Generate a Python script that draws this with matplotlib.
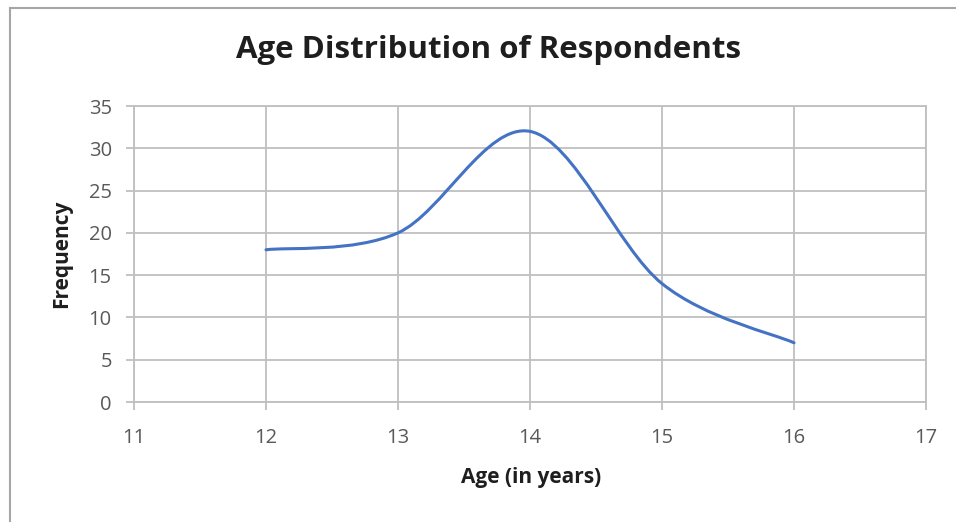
import numpy as np
import matplotlib.pyplot as plt
from matplotlib.path import Path
from matplotlib.patches import PathPatch

# data
ages = [12, 13, 14, 15, 16]
freq = [18, 20, 32, 14, 7]
xticks = [11, 12, 13, 14, 15, 16, 17]
yticks = [0, 5, 10, 15, 20, 25, 30, 35]

plt.rcParams['font.family'] = ['Open Sans', 'DejaVu Sans']

fig = plt.figure(figsize=(9.56, 5.22), dpi=100)
ax = fig.add_axes([134/956, 1-402/522, (926-134)/956, (402-106)/522])

#smoothed line like excel: cubic bezier through the points
p = np.column_stack([ages, freq]).astype(float)
n = len(p)
verts = [p[0]]
codes = [Path.MOVETO]
for i in range(n-1):
  prev = p[i-1] if i > 0 else p[i]
  nxt = p[i+2] if i+2 < n else p[i+1]
  c1 = p[i] + (p[i+1]-prev)/6
  c2 = p[i+1] - (nxt-p[i])/6
  verts += [c1, c2, p[i+1]]
  codes += [Path.CURVE4]*3
ax.add_patch(PathPatch(Path(verts, codes), facecolor='none', edgecolor='#4472c4', lw=2.2, capstyle='round', zorder=3))

ax.set_xlim(11, 17)
ax.set_ylim(0, 35)
ax.set_xticks(xticks)
ax.set_yticks(yticks)
ax.grid(True, color='#bfbfbf', lw=1.3)
ax.set_axisbelow(True)
for s in ax.spines.values():
  s.set_color('#bfbfbf')
  s.set_linewidth(1.3)
ax.tick_params(colors='#bfbfbf', width=1.3, length=6, labelcolor='#595959', labelsize=14.5)
ax.tick_params(axis='x', pad=13)
ax.tick_params(axis='y', pad=10)

fig.text(489/956, 1-50/522, 'Age Distribution of Respondents', ha='center', va='center', fontsize=22.5, fontweight='bold', color='#1e1e1e')
fig.text(531/956, 1-478/522, 'Age (in years)', ha='center', va='center', fontsize=15, fontweight='bold', color='#1e1e1e')
fig.text(62/956, 1-254/522, 'Frequency', ha='center', va='center', rotation=90, fontsize=15, fontweight='bold', color='#1e1e1e')

#outer chart border (left and top visible)
fig.add_artist(plt.Line2D([10/956, 10/956], [0, 1-8/522], color='#a6a6a6', lw=1.5))
fig.add_artist(plt.Line2D([10/956, 1], [1-8/522, 1-8/522], color='#a6a6a6', lw=1.5))

plt.savefig('out.png', dpi=100)
